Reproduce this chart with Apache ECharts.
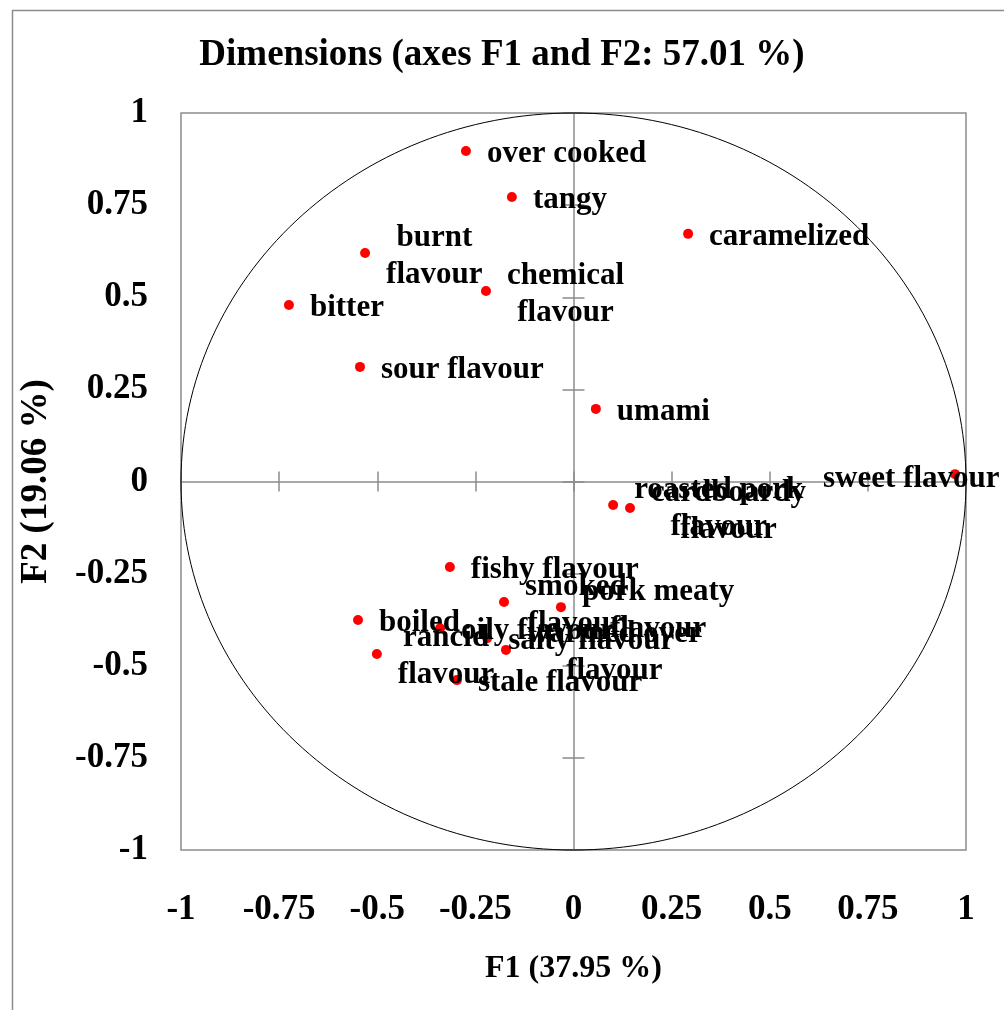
<!DOCTYPE html>
<html><head><meta charset="utf-8">
<script src="https://cdn.jsdelivr.net/npm/echarts@6/dist/echarts.min.js"></script>
<style>html,body{margin:0;padding:0;background:#fff}#c{width:1004px;height:1010px}</style>
</head><body><div id="c"></div>
<script>
// ---- data ----
const attributes = [
  'over cooked', 'tangy', 'caramelized', 'burnt\nflavour', 'chemical\nflavour',
  'bitter', 'sour flavour', 'umami', 'sweet flavour', 'roasted pork\nflavour',
  'cardboardy\nflavour', 'fishy flavour', 'smoked\nflavour', 'pork meaty\nflavour', 'boiled',
  'oily flavour', 'salty flavour', 'rancid\nflavour', 'warmed over\nflavour', 'stale flavour'
];
const f1Values = [
  -0.274, -0.157, 0.292, -0.531, -0.223,
  -0.725, -0.544, 0.057, 0.972, 0.101,
  0.144, -0.315, -0.177, -0.032, -0.549,
  -0.340, -0.220, -0.501, -0.172, -0.297
];
const f2Values = [
  0.897, 0.772, 0.672, 0.620, 0.517,
  0.479, 0.311, 0.197, 0.020, -0.064,
  -0.072, -0.232, -0.327, -0.341, -0.376,
  -0.398, -0.425, -0.468, -0.457, -0.539
];
const axisTicks = [-1, -0.75, -0.5, -0.25, 0, 0.25, 0.5, 0.75, 1];
const titleText = 'Dimensions (axes F1 and F2: 57.01 %)';
const xName = 'F1 (37.95 %)';
const yName = 'F2 (19.06 %)';

// ---- styling ----
const FONT = "'Liberation Serif', 'Times New Roman', serif";
const GRAY = '#8c8c8c';
const labelShift = { 'sweet flavour': [-153, 5] };

const chart = echarts.init(document.getElementById('c'), null, { renderer: 'canvas' });

const scatterData = attributes.map((name, i) => ({
  name: name,
  value: [f1Values[i], f2Values[i]],
  label: labelShift[name] ? { offset: labelShift[name] } : undefined
}));

const baseAxis = { type: 'value', min: axisTicks[0], max: axisTicks[axisTicks.length - 1], interval: 0.25, splitLine: { show: false } };
const hiddenLabel = { show: false };

chart.setOption({
  animation: false,
  backgroundColor: '#fff',
  title: {
    text: titleText, left: 'center', top: 32,
    textStyle: { fontFamily: FONT, fontWeight: 'bold', fontSize: 37, color: '#000' }
  },
  graphic: [{
    type: 'rect', left: 10, top: 8, shape: { width: 1100, height: 1100 },
    style: { fill: 'none', stroke: GRAY, lineWidth: 1.5 }, silent: true
  }],
  grid: { left: 181, right: 38, top: 113, bottom: 160, show: true, borderColor: GRAY, borderWidth: 1.5, backgroundColor: 'transparent' },
  xAxis: [
    Object.assign({}, baseAxis, {
      position: 'bottom',
      axisLine: { show: false, onZero: false }, axisTick: { show: false },
      axisLabel: { fontFamily: FONT, fontWeight: 'bold', fontSize: 35, color: '#000', margin: 42 },
      name: xName, nameLocation: 'middle', nameGap: 103,
      nameTextStyle: { fontFamily: FONT, fontWeight: 'bold', fontSize: 32, color: '#000' }
    }),
    Object.assign({}, baseAxis, {
      position: 'bottom',
      axisLine: { show: true, onZero: true, lineStyle: { color: GRAY, width: 1.5 } },
      axisTick: { show: true, length: 10, lineStyle: { color: GRAY, width: 1.5 } },
      axisLabel: hiddenLabel
    }),
    Object.assign({}, baseAxis, {
      position: 'bottom',
      axisLine: { show: false, onZero: true },
      axisTick: { show: true, inside: true, length: 10, lineStyle: { color: GRAY, width: 1.5 } },
      axisLabel: hiddenLabel
    })
  ],
  yAxis: [
    Object.assign({}, baseAxis, {
      position: 'left',
      axisLine: { show: false, onZero: false }, axisTick: { show: false },
      axisLabel: { fontFamily: FONT, fontWeight: 'bold', fontSize: 35, color: '#000', margin: 33, padding: [6, 0, 0, 0] },
      name: yName, nameLocation: 'middle', nameGap: 126, nameRotate: 90,
      nameTextStyle: { fontFamily: FONT, fontWeight: 'bold', fontSize: 37, color: '#000' }
    }),
    Object.assign({}, baseAxis, {
      position: 'left',
      axisLine: { show: true, onZero: true, lineStyle: { color: GRAY, width: 1.5 } },
      axisTick: { show: true, length: 11, lineStyle: { color: GRAY, width: 1.5 } },
      axisLabel: hiddenLabel
    }),
    Object.assign({}, baseAxis, {
      position: 'left',
      axisLine: { show: false, onZero: true },
      axisTick: { show: true, inside: true, length: 11, lineStyle: { color: GRAY, width: 1.5 } },
      axisLabel: hiddenLabel
    })
  ],
  series: [
    {
      type: 'custom',
      xAxisIndex: 0, yAxisIndex: 0,
      data: [[0, 0]],
      clip: false, silent: true, z: 1,
      renderItem: function (params, api) {
        const c = api.coord([0, 0]);
        const px = api.coord([1, 0]);
        const py = api.coord([0, 1]);
        return {
          type: 'ellipse',
          shape: { cx: c[0], cy: c[1], rx: px[0] - c[0], ry: c[1] - py[1] },
          style: { fill: 'none', stroke: '#000', lineWidth: 1 }
        };
      }
    },
    {
      type: 'scatter',
      xAxisIndex: 0, yAxisIndex: 0,
      symbol: 'circle', symbolSize: 10,
      itemStyle: { color: '#ff0000', opacity: 1 },
      z: 3,
      data: scatterData,
      label: {
        show: true, position: 'right', distance: 16, offset: [0, 3],
        fontFamily: FONT, fontWeight: 'bold', fontSize: 31, color: '#000', lineHeight: 37,
        formatter: function (p) {
          return p.name.split('\n').map(s => '{c|' + s + '}').join('\n');
        },
        rich: { c: { align: 'center', fontFamily: FONT, fontWeight: 'bold', fontSize: 31, color: '#000', lineHeight: 37 } }
      }
    }
  ]
});
</script>
</body></html>
